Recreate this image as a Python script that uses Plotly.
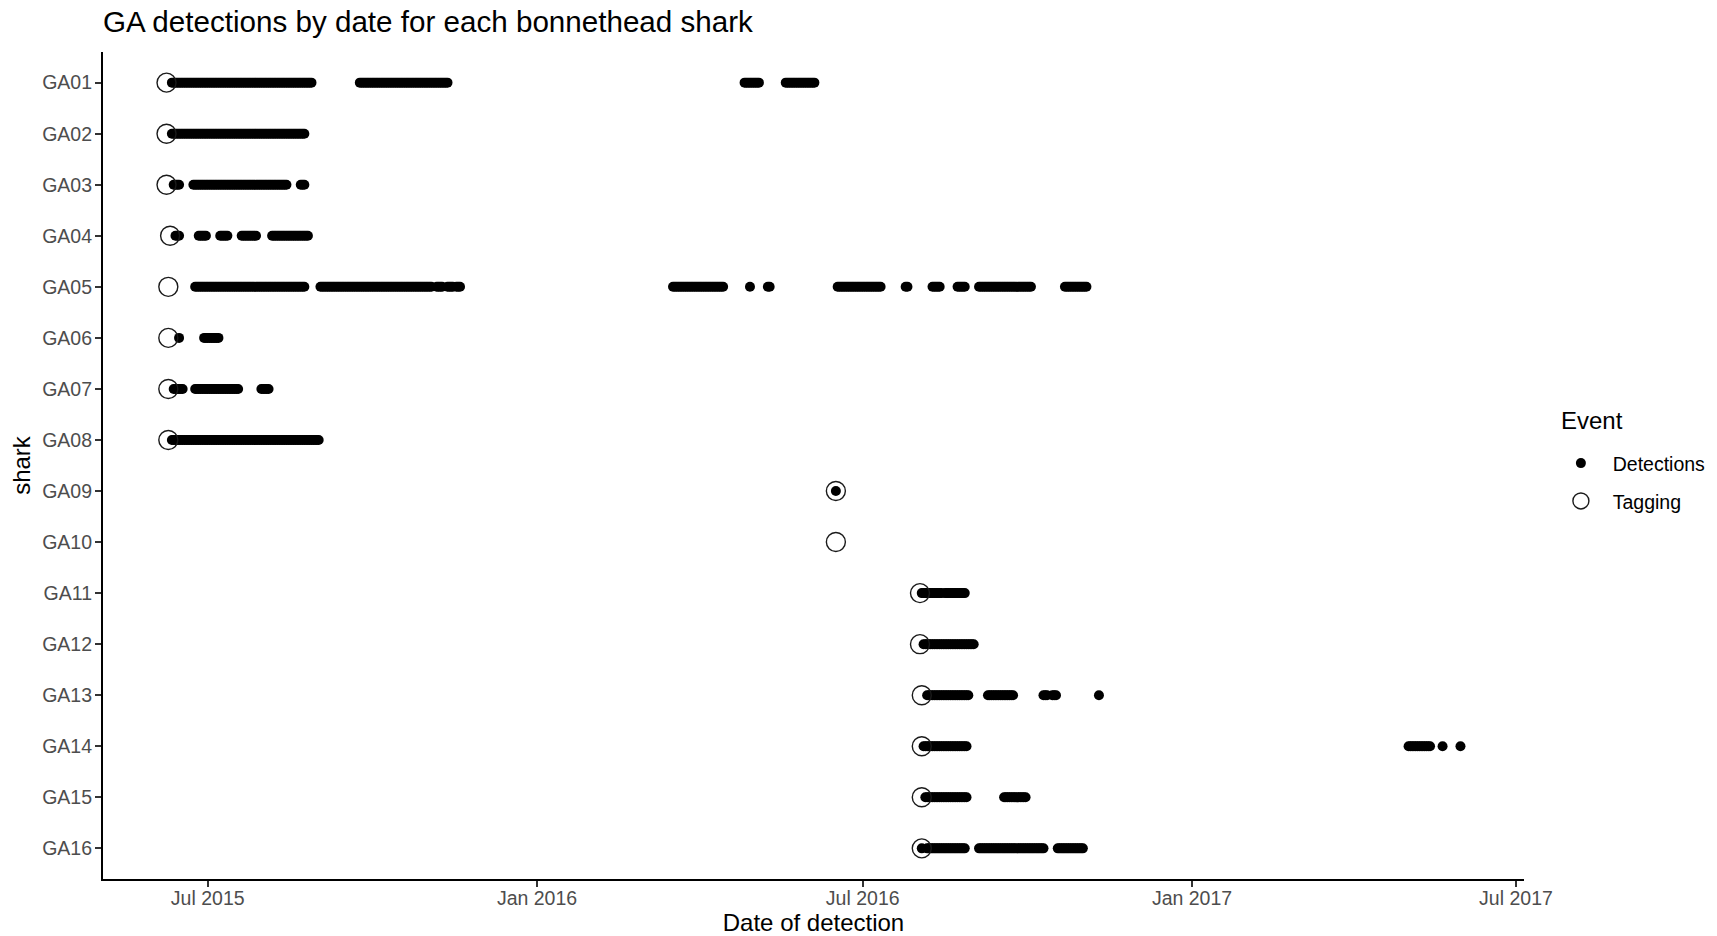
import pandas as pd
import plotly.graph_objects as go

# Shark IDs, top to bottom
sharks = ["GA01", "GA02", "GA03", "GA04", "GA05", "GA06", "GA07", "GA08",
          "GA09", "GA10", "GA11", "GA12", "GA13", "GA14", "GA15", "GA16"]

# Tagging date of each shark (same order as sharks)
tag_dates = ["2015-06-08", "2015-06-08", "2015-06-08", "2015-06-10",
             "2015-06-09", "2015-06-09", "2015-06-09", "2015-06-09",
             "2016-06-16", "2016-06-16", "2016-08-02", "2016-08-02",
             "2016-08-03", "2016-08-03", "2016-08-03", "2016-08-03"]

# Detection days per shark, stored as runs of consecutive days (first, last)
ga01_runs = [("2015-06-11", "2015-08-28"), ("2015-09-24", "2015-11-12"),
             ("2016-04-26", "2016-05-04"), ("2016-05-19", "2016-06-04")]
ga02_runs = [("2015-06-11", "2015-08-24")]
ga03_runs = [("2015-06-12", "2015-06-15"), ("2015-06-23", "2015-08-14"),
             ("2015-08-22", "2015-08-24")]
ga04_runs = [("2015-06-13", "2015-06-15"), ("2015-06-26", "2015-06-30"),
             ("2015-07-08", "2015-07-12"), ("2015-07-20", "2015-07-28"),
             ("2015-08-06", "2015-08-26")]
ga05_runs = [("2015-06-24", "2015-08-24"), ("2015-09-02", "2015-11-03"),
             ("2015-11-06", "2015-11-09"), ("2015-11-12", "2015-11-15"),
             ("2015-11-17", "2015-11-19"), ("2016-03-17", "2016-04-14"),
             ("2016-04-29", "2016-04-29"), ("2016-05-09", "2016-05-10"),
             ("2016-06-17", "2016-07-11"), ("2016-07-25", "2016-07-26"),
             ("2016-08-09", "2016-08-13"), ("2016-08-23", "2016-08-27"),
             ("2016-09-04", "2016-10-03"), ("2016-10-22", "2016-11-03")]
ga06_runs = [("2015-06-15", "2015-06-15"), ("2015-06-29", "2015-07-07")]
ga07_runs = [("2015-06-12", "2015-06-17"), ("2015-06-24", "2015-07-18"),
             ("2015-07-31", "2015-08-04")]
ga08_runs = [("2015-06-11", "2015-09-01")]
ga09_runs = [("2016-06-16", "2016-06-16")]
ga10_runs = []
ga11_runs = [("2016-08-03", "2016-08-14"), ("2016-08-16", "2016-08-27")]
ga12_runs = [("2016-08-04", "2016-09-01")]
ga13_runs = [("2016-08-06", "2016-08-29"), ("2016-09-09", "2016-09-23"),
             ("2016-10-10", "2016-10-12"), ("2016-10-15", "2016-10-17"),
             ("2016-11-10", "2016-11-10")]
ga14_runs = [("2016-08-04", "2016-08-28"), ("2017-05-02", "2017-05-14"),
             ("2017-05-21", "2017-05-21"), ("2017-05-31", "2017-05-31")]
ga15_runs = [("2016-08-05", "2016-08-28"), ("2016-09-18", "2016-09-30")]
ga16_runs = [("2016-08-03", "2016-08-03"), ("2016-08-06", "2016-08-27"),
             ("2016-09-04", "2016-10-10"), ("2016-10-18", "2016-11-01")]

detection_runs = [ga01_runs, ga02_runs, ga03_runs, ga04_runs, ga05_runs,
                  ga06_runs, ga07_runs, ga08_runs, ga09_runs, ga10_runs,
                  ga11_runs, ga12_runs, ga13_runs, ga14_runs, ga15_runs,
                  ga16_runs]

# One row per detection day
det_x, det_y = [], []
for shark, runs in zip(sharks, detection_runs):
    for first, last in runs:
        days = pd.date_range(first, last, freq="D")
        det_x.extend(days)
        det_y.extend([shark] * len(days))

FONT = "Liberation Sans, Arial, Helvetica, sans-serif"

fig = go.Figure()
fig.add_trace(go.Scatter(
    x=det_x, y=det_y, mode="markers", name="Detections",
    legendgroup="det",
    marker=dict(symbol="circle", size=10, color="black", line=dict(width=0)),
))
fig.add_trace(go.Scatter(
    x=pd.to_datetime(tag_dates), y=sharks, mode="markers", name="Tagging",
    legendgroup="tag",
    marker=dict(symbol="circle-open", size=19, color="#1a1a1a",
                line=dict(width=1.4, color="#1a1a1a")),
))

fig.update_layout(
    width=1717, height=936,
    margin=dict(l=103.3, r=193, t=51.7, b=57, autoexpand=False),
    paper_bgcolor="white", plot_bgcolor="white",
    font=dict(family=FONT, color="black"),
    title=dict(text="GA detections by date for each bonnethead shark",
               x=0, xref="paper", xanchor="left",
               y=1 - 22 / 936, yref="container", yanchor="middle",
               font=dict(size=29.6, color="black")),
    xaxis=dict(
        type="date", range=["2015-05-03 12:00", "2017-07-05 12:00"],
        tick0="2015-07-01", dtick="M6", tickformat="%b %Y",
        showline=True, linecolor="black", linewidth=2.2,
        ticks="outside", ticklen=6, tickwidth=2.2, tickcolor="#333333",
        ticklabelstandoff=-6,
        tickfont=dict(size=19.5, color="#4d4d4d"),
        showgrid=False, zeroline=False,
        title=dict(text="Date of detection", standoff=11,
                   font=dict(size=24, color="black")),
    ),
    yaxis=dict(
        type="category", categoryorder="array", categoryarray=sharks,
        range=[15.6, -0.6],
        showline=True, linecolor="black", linewidth=2.2,
        ticks="outside", ticklen=6, tickwidth=2.2, tickcolor="#333333",
        ticklabelstandoff=-1,
        tickfont=dict(size=19.5, color="#4d4d4d"),
        showgrid=False, zeroline=False,
        title=dict(text="shark", standoff=5,
                   font=dict(size=24, color="black")),
    ),
    legend=dict(
        font=dict(size=19.5, color="black"),
        x=(1549.1 - 103.3) / 1420.7, xanchor="left",
        y=0.5261, yanchor="top",
        traceorder="grouped", tracegroupgap=9.5, itemwidth=53.6,
        itemsizing="trace", bgcolor="rgba(0,0,0,0)",
    ),
    # legend heading
    annotations=[dict(
        text="Event", xref="paper", yref="paper",
        x=(1559.4 - 103.3) / 1420.7, xanchor="left",
        y=(879 - 420) / 827.3, yanchor="middle",
        showarrow=False, font=dict(size=24, color="black"),
    )],
    showlegend=True,
)

fig.write_html("out.html")
